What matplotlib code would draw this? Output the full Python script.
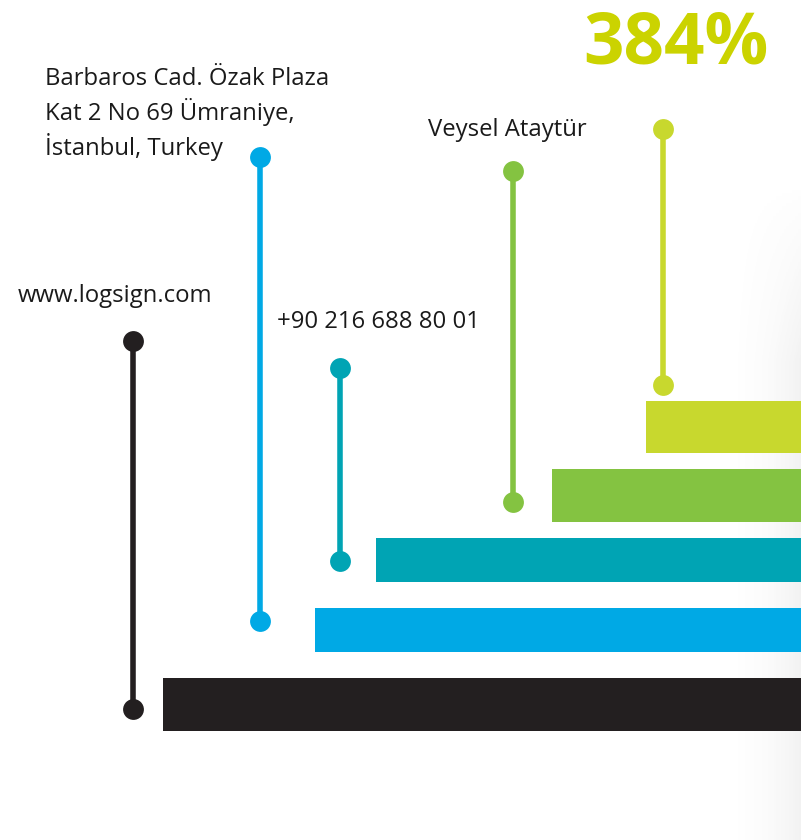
import numpy as np
import matplotlib
matplotlib.use("Agg")
import matplotlib.pyplot as plt

# infographic pieces, in pixel units of the 801x840 canvas
colors = ["#231f20", "#00a9e5", "#00a4b4", "#84c341", "#c8d82e"]
bar_left = [163, 315, 376, 552, 646]
bar_top = [678, 608, 538, 469, 401]
bar_bottom = [731, 652, 582, 522, 453]

stem_x = [133, 260, 340, 513, 663]
stem_top = [341, 157, 368, 171, 129]
stem_bottom = [709, 621, 561, 502, 385]

labels = ["www.logsign.com",
          "Barbaros Cad. Özak Plaza\nKat 2 No 69 Ümraniye,\nİstanbul, Turkey",
          "+90 216 688 80 01",
          "Veysel Ataytür",
          ""]
label_x = [18, 45, 277, 428, 0]
label_y = [302, 155, 328, 136, 0]

headline = "384%"

W, H = 801, 840
fig = plt.figure(figsize=(W / 100, H / 100), dpi=100)
ax = fig.add_axes([0, 0, 1, 1])
ax.set_xlim(0, W)
ax.set_ylim(H, 0)
ax.axis("off")

# faint grey shading at the right edge, fading in from above
gx = np.linspace(0, 1, 80) ** 2
gy = np.clip((np.linspace(180, H, 200) - 180) / 180, 0, 1)
shade = np.zeros((200, 80, 4))
shade[..., :3] = 0.45
shade[..., 3] = 0.09 * np.outer(gy, gx)
ax.imshow(shade, extent=(721, W, H, 180), aspect="auto", zorder=0)

for i in range(len(colors)):
    ax.barh((bar_top[i] + bar_bottom[i]) / 2, W - bar_left[i],
            height=bar_bottom[i] - bar_top[i], left=bar_left[i],
            color=colors[i], zorder=2)
    ax.plot([stem_x[i], stem_x[i]], [stem_top[i], stem_bottom[i]],
            color=colors[i], lw=4, solid_capstyle="butt", zorder=3)
    ax.plot([stem_x[i]] * 2, [stem_top[i], stem_bottom[i]], "o",
            color=colors[i], ms=15, mew=0, zorder=4)
    if labels[i]:
        ax.text(label_x[i], label_y[i], labels[i], fontsize=17.2,
                family="Open Sans", color="#1a1a1a", ha="left",
                va="baseline", linespacing=1.31, zorder=5)

ax.text(768, 64, headline, fontsize=51, family="Open Sans", weight="bold",
        color="#cbd300", ha="right", va="baseline")

fig.savefig("out.png", dpi=100)
